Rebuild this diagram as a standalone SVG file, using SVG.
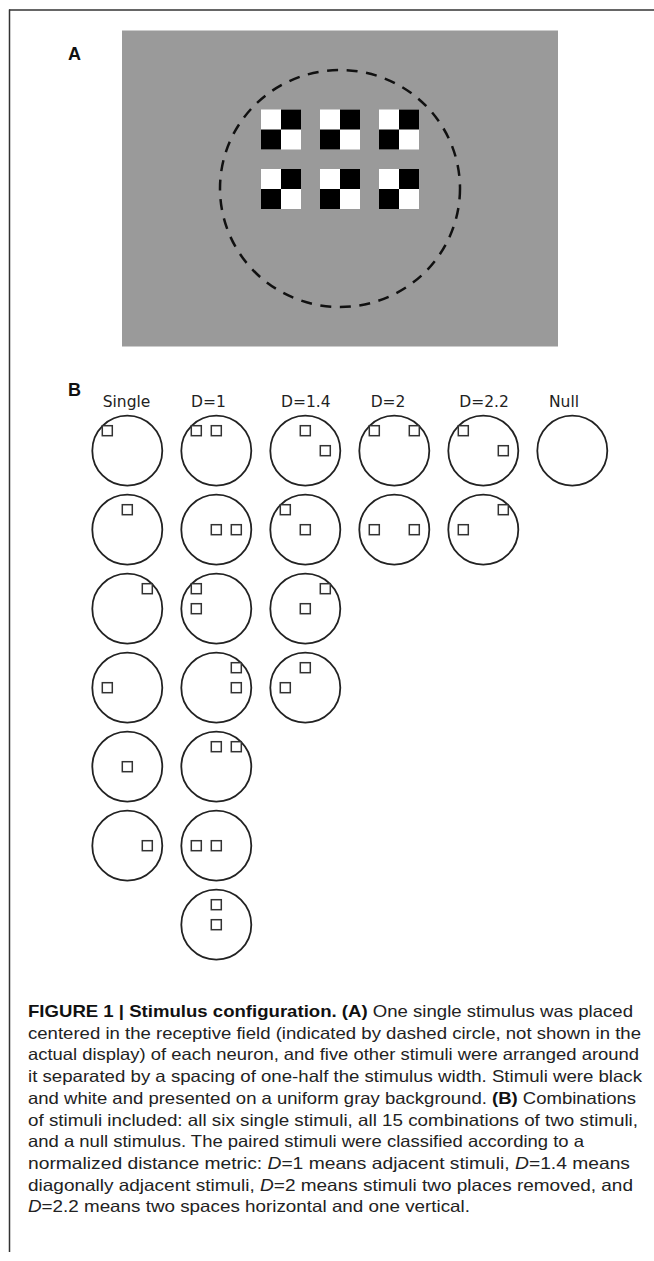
<svg xmlns="http://www.w3.org/2000/svg" xmlns:xlink="http://www.w3.org/1999/xlink" width="654" height="1261" viewBox="0 0 654 1261">
<style>
  .frame { stroke: #333; stroke-width: 1.5; fill: none; }
  .panel { font-family: "Liberation Sans", Arial, sans-serif; font-weight: bold; font-size: 18px; fill: #111; }
  .lbl { font-family: "DejaVu Sans", sans-serif; font-size: 15.5px; fill: #222; }
  .rf { fill: #fff; stroke: #222; stroke-width: 1.8; }
  .sq { fill: #fff; stroke: #333; stroke-width: 1.5; }
  .cap { font-family: "Liberation Sans", Arial, sans-serif; font-size: 16.5px; fill: #222; }
  .b { font-weight: bold; fill: #111; }
  .i { font-style: italic; }
</style>
<defs>
  <g id="checker">
    <rect x="0" y="0" width="40" height="40" fill="#fff"/>
    <rect x="20" y="0" width="20" height="20" fill="#000"/>
    <rect x="0" y="20" width="20" height="20" fill="#000"/>
  </g>
</defs>
<rect x="0" y="0" width="654" height="1261" fill="#fff"/>
<g id="frame">
  <line class="frame" x1="9" y1="10" x2="654" y2="10"/>
  <line class="frame" x1="9.5" y1="9.5" x2="9.5" y2="1252"/>
</g>

<g id="panelA">
  <text class="panel" x="68" y="60">A</text>
  <rect x="122" y="30.5" width="436" height="316" fill="#9a9a9a"/>
  <g id="stimuli">
    <use xlink:href="#checker" x="261" y="109.5"/>
    <use xlink:href="#checker" x="320" y="109.5"/>
    <use xlink:href="#checker" x="379" y="109.5"/>
    <use xlink:href="#checker" x="261" y="169"/>
    <use xlink:href="#checker" x="320" y="169"/>
    <use xlink:href="#checker" x="379" y="169"/>
  </g>
  <ellipse id="receptive-field" cx="340" cy="188.5" rx="120" ry="118.5" fill="none" stroke="#111" stroke-width="2.5" stroke-dasharray="11 8.6"/>
</g>

<g id="panelB">
  <text class="panel" x="68" y="396">B</text>
  <text class="lbl" x="102.7" y="406.5">Single</text>
  <text class="lbl" x="191" y="406.5">D=1</text>
  <text class="lbl" x="281" y="406.5">D=1.4</text>
  <text class="lbl" x="370.7" y="406.5">D=2</text>
  <text class="lbl" x="459.3" y="406.5">D=2.2</text>
  <text class="lbl" x="549" y="406.5">Null</text>

  <!-- Single column -->
  <g id="s1" transform="translate(127.3,450.7)"><circle class="rf" r="35"/><rect class="sq" x="-25" y="-25" width="10" height="10"/></g>
  <g id="s2" transform="translate(127.3,529.7)"><circle class="rf" r="35"/><rect class="sq" x="-5" y="-25" width="10" height="10"/></g>
  <g id="s3" transform="translate(127.3,608.7)"><circle class="rf" r="35"/><rect class="sq" x="15" y="-25" width="10" height="10"/></g>
  <g id="s4" transform="translate(127.3,687.7)"><circle class="rf" r="35"/><rect class="sq" x="-25" y="-5" width="10" height="10"/></g>
  <g id="s5" transform="translate(127.3,766.7)"><circle class="rf" r="35"/><rect class="sq" x="-5" y="-5" width="10" height="10"/></g>
  <g id="s6" transform="translate(127.3,845.7)"><circle class="rf" r="35"/><rect class="sq" x="15" y="-5" width="10" height="10"/></g>

  <!-- D=1 column -->
  <g id="d1a" transform="translate(216.3,450.7)"><circle class="rf" r="35"/><rect class="sq" x="-25" y="-25" width="10" height="10"/><rect class="sq" x="-5" y="-25" width="10" height="10"/></g>
  <g id="d1b" transform="translate(216.3,529.7)"><circle class="rf" r="35"/><rect class="sq" x="-5" y="-5" width="10" height="10"/><rect class="sq" x="15" y="-5" width="10" height="10"/></g>
  <g id="d1c" transform="translate(216.3,608.7)"><circle class="rf" r="35"/><rect class="sq" x="-25" y="-25" width="10" height="10"/><rect class="sq" x="-25" y="-5" width="10" height="10"/></g>
  <g id="d1d" transform="translate(216.3,687.7)"><circle class="rf" r="35"/><rect class="sq" x="15" y="-25" width="10" height="10"/><rect class="sq" x="15" y="-5" width="10" height="10"/></g>
  <g id="d1e" transform="translate(216.3,766.7)"><circle class="rf" r="35"/><rect class="sq" x="-5" y="-25" width="10" height="10"/><rect class="sq" x="15" y="-25" width="10" height="10"/></g>
  <g id="d1f" transform="translate(216.3,845.7)"><circle class="rf" r="35"/><rect class="sq" x="-25" y="-5" width="10" height="10"/><rect class="sq" x="-5" y="-5" width="10" height="10"/></g>
  <g id="d1g" transform="translate(216.3,924.7)"><circle class="rf" r="35"/><rect class="sq" x="-5" y="-25" width="10" height="10"/><rect class="sq" x="-5" y="-5" width="10" height="10"/></g>

  <!-- D=1.4 column -->
  <g id="d14a" transform="translate(305.3,450.7)"><circle class="rf" r="35"/><rect class="sq" x="-5" y="-25" width="10" height="10"/><rect class="sq" x="15" y="-5" width="10" height="10"/></g>
  <g id="d14b" transform="translate(305.3,529.7)"><circle class="rf" r="35"/><rect class="sq" x="-25" y="-25" width="10" height="10"/><rect class="sq" x="-5" y="-5" width="10" height="10"/></g>
  <g id="d14c" transform="translate(305.3,608.7)"><circle class="rf" r="35"/><rect class="sq" x="15" y="-25" width="10" height="10"/><rect class="sq" x="-5" y="-5" width="10" height="10"/></g>
  <g id="d14d" transform="translate(305.3,687.7)"><circle class="rf" r="35"/><rect class="sq" x="-5" y="-25" width="10" height="10"/><rect class="sq" x="-25" y="-5" width="10" height="10"/></g>

  <!-- D=2 column -->
  <g id="d2a" transform="translate(394.3,450.7)"><circle class="rf" r="35"/><rect class="sq" x="-25" y="-25" width="10" height="10"/><rect class="sq" x="15" y="-25" width="10" height="10"/></g>
  <g id="d2b" transform="translate(394.3,529.7)"><circle class="rf" r="35"/><rect class="sq" x="-25" y="-5" width="10" height="10"/><rect class="sq" x="15" y="-5" width="10" height="10"/></g>

  <!-- D=2.2 column -->
  <g id="d22a" transform="translate(483.3,450.7)"><circle class="rf" r="35"/><rect class="sq" x="-25" y="-25" width="10" height="10"/><rect class="sq" x="15" y="-5" width="10" height="10"/></g>
  <g id="d22b" transform="translate(483.3,529.7)"><circle class="rf" r="35"/><rect class="sq" x="15" y="-25" width="10" height="10"/><rect class="sq" x="-25" y="-5" width="10" height="10"/></g>

  <!-- Null -->
  <g id="null" transform="translate(572.3,450.7)"><circle class="rf" r="35"/></g>
</g>

<g id="connectors"></g>

<g id="caption" class="cap">
  <text x="28" y="1017" textLength="605" lengthAdjust="spacingAndGlyphs"><tspan class="b">FIGURE 1 | Stimulus configuration. (A)</tspan> One single stimulus was placed</text>
  <text x="28" y="1038.7" textLength="613" lengthAdjust="spacingAndGlyphs">centered in the receptive field (indicated by dashed circle, not shown in the</text>
  <text x="28" y="1060.4" textLength="611" lengthAdjust="spacingAndGlyphs">actual display) of each neuron, and five other stimuli were arranged around</text>
  <text x="28" y="1082.1" textLength="614" lengthAdjust="spacingAndGlyphs">it separated by a spacing of one-half the stimulus width. Stimuli were black</text>
  <text x="28" y="1103.8" textLength="608" lengthAdjust="spacingAndGlyphs">and white and presented on a uniform gray background. <tspan class="b">(B)</tspan> Combinations</text>
  <text x="28" y="1125.5" textLength="610" lengthAdjust="spacingAndGlyphs">of stimuli included: all six single stimuli, all 15 combinations of two stimuli,</text>
  <text x="28" y="1147.2" textLength="556" lengthAdjust="spacingAndGlyphs">and a null stimulus. The paired stimuli were classified according to a</text>
  <text x="28" y="1168.9" textLength="602" lengthAdjust="spacingAndGlyphs">normalized distance metric: <tspan class="i">D</tspan>=1 means adjacent stimuli, <tspan class="i">D</tspan>=1.4 means</text>
  <text x="28" y="1190.6" textLength="605" lengthAdjust="spacingAndGlyphs">diagonally adjacent stimuli, <tspan class="i">D</tspan>=2 means stimuli two places removed, and</text>
  <text x="28" y="1212.3" textLength="442" lengthAdjust="spacingAndGlyphs"><tspan class="i">D</tspan>=2.2 means two spaces horizontal and one vertical.</text>
</g>
</svg>
